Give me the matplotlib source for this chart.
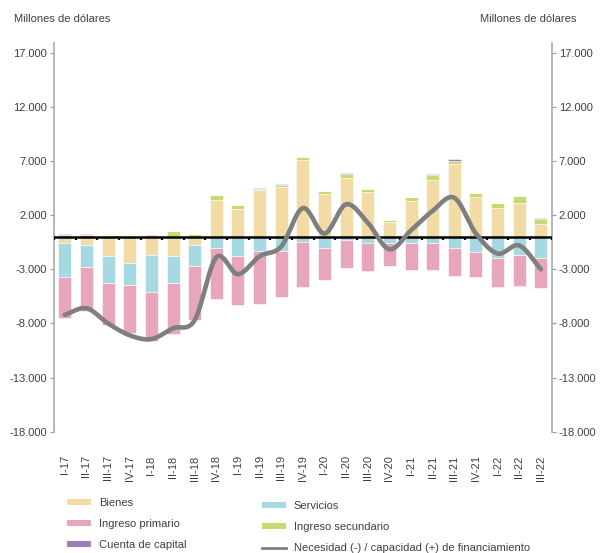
import numpy as np
import matplotlib
matplotlib.use("Agg")
import matplotlib.pyplot as plt
from matplotlib.patches import Patch
from matplotlib.lines import Line2D

# ---------------- data ----------------
categories = ["I-17", "II-17", "III-17", "IV-17", "I-18", "II-18", "III-18", "IV-18",
              "I-19", "II-19", "III-19", "IV-19", "I-20", "II-20", "III-20", "IV-20",
              "I-21", "II-21", "III-21", "IV-21", "I-22", "II-22", "III-22"]

bienes = [-600, -730, -1730, -2450, -1670, -1730, -800, 3420,
          2580, 4290, 4570, 7080, 3980, 5390, 4100, 1330,
          3330, 5230, 6730, 3670, 2670, 3110, 1170]
servicios = [-3130, -2100, -2560, -2030, -3440, -2560, -1940, -1050,
             -1730, -1330, -1270, -470, -1010, -260, -600, -600,
             -600, -600, -1010, -1420, -1990, -1640, -1990]
ingreso_primario = [-3750, -4060, -3840, -4440, -4530, -4690, -4940, -4690,
                    -4590, -4870, -4280, -4160, -2970, -2630, -2560, -2090,
                    -2500, -2440, -2600, -2280, -2620, -2900, -2720]
ingreso_secundario = [200, 180, -100, 0, 100, 500, 250, 400,
                      310, 130, 190, 250, 210, 440, 310, 190,
                      310, 440, 310, 370, 440, 620, 500]
cuenta_capital = [60, 60, 0, 0, 80, 20, 30, 30,
                  30, 100, 80, 40, 40, 40, 30, 20,
                  30, 100, 120, 30, 30, 30, 20]
financiamiento = [-7200, -6600, -8000, -9100, -9450, -8450, -7700, -1900,
                  -3450, -1800, -900, 2650, 300, 3000, 1300, -1150,
                  600, 2400, 3600, 300, -1550, -800, -3000]

series_names = ["Bienes", "Servicios", "Ingreso primario", "Ingreso secundario", "Cuenta de capital"]
series_vals = [bienes, servicios, ingreso_primario, ingreso_secundario, cuenta_capital]
series_colors = ["#F3DBA6", "#A6D9E2", "#E8A6BC", "#C7D96F", "#9A80B9"]
line_name = "Necesidad (-) / capacidad (+) de financiamiento"
line_color = "#7F7F7F"

yticks = [17000, 12000, 7000, 2000, -3000, -8000, -13000, -18000]

# ---------------- fonts ----------------
plt.rcParams["font.family"] = ["Liberation Sans", "DejaVu Sans"]
txt_color = "#404040"
FS = 8


def fmt(v):
    s = f"{abs(int(v)):,}".replace(",", ".")
    return ("-" if v < 0 else "") + s


def catmull_rom(x, y, n=20):
    x = np.asarray(x, float)
    y = np.asarray(y, float)
    px = np.concatenate([[2 * x[0] - x[1]], x, [2 * x[-1] - x[-2]]])
    py = np.concatenate([[2 * y[0] - y[1]], y, [2 * y[-1] - y[-2]]])
    xs, ys = [], []
    t = np.linspace(0, 1, n, endpoint=False)
    for i in range(1, len(px) - 2):
        p0, p1, p2, p3 = py[i - 1], py[i], py[i + 1], py[i + 2]
        q0, q1, q2, q3 = px[i - 1], px[i], px[i + 1], px[i + 2]
        t2, t3 = t * t, t * t * t
        ys.append(0.5 * (2 * p1 + (-p0 + p2) * t + (2 * p0 - 5 * p1 + 4 * p2 - p3) * t2 + (-p0 + 3 * p1 - 3 * p2 + p3) * t3))
        xs.append(0.5 * (2 * q1 + (-q0 + q2) * t + (2 * q0 - 5 * q1 + 4 * q2 - q3) * t2 + (-q0 + 3 * q1 - 3 * q2 + q3) * t3))
    xs.append([x[-1]])
    ys.append([y[-1]])
    return np.concatenate(xs), np.concatenate(ys)


# ---------------- figure ----------------
fig = plt.figure(figsize=(6.04, 5.53), dpi=100)
ax = fig.add_axes([0.0894, 0.2193, 0.8240, 0.7035])

x = np.arange(len(categories))
pos_base = np.zeros(len(x))
neg_base = np.zeros(len(x))
for name, vals, col in zip(series_names, series_vals, series_colors):
    v = np.asarray(vals, float)
    bottom = np.where(v >= 0, pos_base, neg_base)
    ax.bar(x, v, width=0.6, bottom=bottom, color=col, edgecolor="white",
           linewidth=0.4, zorder=2)
    pos_base = pos_base + np.where(v >= 0, v, 0)
    neg_base = neg_base + np.where(v < 0, v, 0)

# zero line with category-boundary ticks
ax.axhline(0, color="black", linewidth=1.8, zorder=3)
for b in np.arange(-0.5, len(x), 1.0):
    ax.plot([b, b], [0, -280], color="black", linewidth=1.6, zorder=3,
            solid_capstyle="butt")

sx, sy = catmull_rom(x, financiamiento, n=24)
ax.plot(sx, sy, color=line_color, linewidth=3.3, zorder=4,
        solid_capstyle="round", solid_joinstyle="round")

ax.set_xlim(-0.5, len(x) - 0.5)
ax.set_ylim(-18000, 17920)
ax.set_yticks(yticks)
ax.set_yticklabels([fmt(v) for v in yticks])
ax.tick_params(axis="y", which="both", left=True, right=True, labelleft=True,
               labelright=True, direction="out", length=3, width=0.8,
               color="#999999", labelcolor=txt_color, labelsize=FS, pad=2)
ax.set_xticks(x)
ax.set_xticklabels(categories, rotation=90, va="top", ha="center")
ax.tick_params(axis="x", length=0, pad=17, labelsize=FS, labelcolor=txt_color)

for s in ["top", "bottom"]:
    ax.spines[s].set_visible(False)
for s in ["left", "right"]:
    ax.spines[s].set_color("#AAAAAA")
    ax.spines[s].set_linewidth(1.2)

fig.text(14 / 604, 1 - 19 / 553, "Millones de dólares", ha="left", va="center",
         fontsize=FS, color=txt_color)
fig.text(576 / 604, 1 - 19 / 553, "Millones de dólares", ha="right", va="center",
         fontsize=FS, color=txt_color)

# legend (two columns as separate legends)
left_handles = [
    Patch(facecolor=series_colors[0], label=series_names[0]),
    Patch(facecolor=series_colors[2], label=series_names[2]),
    Patch(facecolor=series_colors[4], label=series_names[4]),
]
right_handles = [
    Patch(facecolor=series_colors[1], label=series_names[1]),
    Patch(facecolor=series_colors[3], label=series_names[3]),
    Line2D([0], [0], color=line_color, linewidth=2.0, label=line_name),
]
common = dict(frameon=False, fontsize=FS, labelcolor=txt_color, handlelength=2.2,
              handleheight=0.45, handletextpad=0.65, labelspacing=1.0,
              borderaxespad=0, borderpad=0, loc="upper left")
fig.legend(handles=left_handles, bbox_to_anchor=(67 / 604, 1 - 497.5 / 553), **common)
fig.legend(handles=right_handles, bbox_to_anchor=(262 / 604, 1 - 501 / 553), **common)

fig.savefig("out.png", dpi=100)
